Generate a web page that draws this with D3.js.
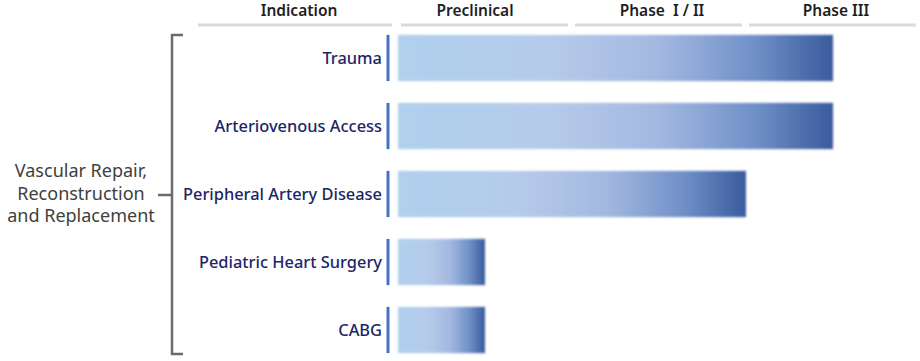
<!DOCTYPE html>
<html>
<head>
<meta charset="utf-8">
<script src="https://cdn.jsdelivr.net/npm/d3@7"></script>
<style>
  html, body { margin: 0; padding: 0; background: #fff; }
</style>
</head>
<body>
<div id="chart"></div>
<script>
// data
const stages = ["Preclinical", "Phase  I / II", "Phase III"];
const indications = ["Trauma", "Arteriovenous Access", "Peripheral Artery Disease", "Pediatric Heart Surgery", "CABG"];
const progress = [2.5, 2.5, 2.0, 0.5, 0.5]; // in stage units
const groupLabel = ["Vascular Repair,", "Reconstruction", "and Replacement"];
const headerFirst = "Indication";

function main(container) {
  const sel = d3.select(container);
  const width = 920;
  const height = 361;
  const font = "'Noto Sans', 'Open Sans', sans-serif";

  const svg = sel.append("svg")
    .attr("width", width)
    .attr("height", height);

  const defs = svg.append("defs");
  const grad = defs.append("linearGradient")
    .attr("id", "barGrad")
    .attr("x1", "0%").attr("x2", "100%")
    .attr("y1", "0%").attr("y2", "0%");
  [
    [0, "#b0d0ee"],
    [0.35, "#b6cbea"],
    [0.6, "#a3b8e0"],
    [0.82, "#7090c8"],
    [1, "#3a5b9c"]
  ].forEach(([o, c]) => grad.append("stop").attr("offset", o).attr("stop-color", c));

  const soft = defs.append("filter").attr("id", "soft")
    .attr("x", "-5%").attr("y", "-10%").attr("width", "110%").attr("height", "120%");
  soft.append("feGaussianBlur").attr("stdDeviation", 0.9);

  // scales
  const x = d3.scaleLinear().domain([0, stages.length]).range([398, 920]);
  const y = d3.scaleBand()
    .domain(indications)
    .range([24, 364])
    .paddingInner(0.32)
    .paddingOuter(0.16);

  // header
  const headerY = 25;
  const header = svg.append("g").attr("class", "header");
  header.append("line")
    .attr("x1", 198).attr("x2", 392)
    .attr("y1", headerY).attr("y2", headerY)
    .attr("stroke", "#dadada").attr("stroke-width", 3);
  header.append("text")
    .attr("x", 299).attr("y", 15.5)
    .attr("text-anchor", "middle")
    .attr("font-family", font).attr("font-size", "15.5px").attr("font-weight", 600)
    .attr("fill", "#1e1e1e")
    .text(headerFirst);

  stages.forEach((s, i) => {
    header.append("line")
      .attr("x1", x(i) + 3).attr("x2", Math.min(x(i + 1) - 4, 918))
      .attr("y1", headerY).attr("y2", headerY)
      .attr("stroke", "#dadada").attr("stroke-width", 3);
    header.append("text")
      .attr("x", (x(i) + x(i + 1)) / 2 + (i === 0 ? -10 : i === 1 ? 3 : 3)).attr("y", 15.5)
      .attr("text-anchor", "middle")
      .attr("font-family", font).attr("font-size", "15.5px").attr("font-weight", 600)
      .attr("fill", "#1e1e1e")
      .attr("xml:space", "preserve")
      .style("white-space", "pre")
      .text(s);
  });

  // bars
  svg.selectAll("rect.bar")
    .data(indications)
    .enter()
    .append("rect")
    .attr("class", "bar")
    .attr("x", x(0))
    .attr("y", d => y(d))
    .attr("width", (d, i) => x(progress[i]) - x(0))
    .attr("height", y.bandwidth())
    .attr("fill", "url(#barGrad)")
    .attr("filter", "url(#soft)");

  // blue markers
  svg.selectAll("line.marker")
    .data(indications)
    .enter()
    .append("line")
    .attr("class", "marker")
    .attr("x1", 388).attr("x2", 388)
    .attr("y1", d => y(d))
    .attr("y2", d => y(d) + y.bandwidth())
    .attr("stroke", "#4472c4")
    .attr("stroke-width", 3);

  // indication labels
  svg.selectAll("text.label")
    .data(indications)
    .enter()
    .append("text")
    .attr("class", "label")
    .attr("x", 382)
    .attr("y", d => y(d) + y.bandwidth() / 2)
    .attr("dy", "0.35em")
    .attr("text-anchor", "end")
    .attr("font-family", font).attr("font-size", "16.4px").attr("font-weight", 500)
    .attr("fill", "#1b2667")
    .text(d => d);

  // bracket
  const top = y(indications[0]);
  const bottom = y(indications[indications.length - 1]) + y.bandwidth() + 1;
  const mid = 195;
  svg.append("path")
    .attr("d", `M183,${top} H172 V${bottom} H183 M172,${mid} H158`)
    .attr("fill", "none")
    .attr("stroke", "#6b6b6b")
    .attr("stroke-width", 2.5);

  // group label
  const gl = svg.append("text")
    .attr("x", 81)
    .attr("y", 177)
    .attr("text-anchor", "middle")
    .attr("font-family", font).attr("font-size", "18px")
    .attr("fill", "#404040");
  groupLabel.forEach((t, i) => {
    gl.append("tspan").attr("x", 81).attr("dy", i === 0 ? 0 : 22.5).text(t);
  });
}

main(document.getElementById("chart"));
</script>
</body>
</html>
